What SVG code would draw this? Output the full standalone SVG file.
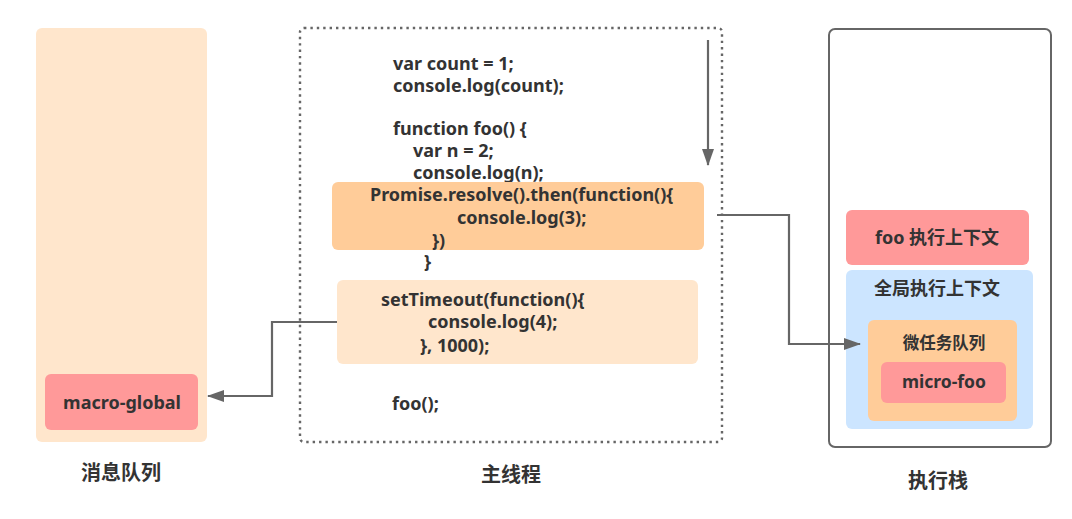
<svg xmlns="http://www.w3.org/2000/svg" width="1072" height="519" viewBox="0 0 1072 519">
<style>
text{font-family:"Noto Sans","Noto Sans CJK SC",sans-serif;font-weight:bold;fill:#333;font-size:18px}
.lbl{font-size:20px;text-anchor:middle}
.c{text-anchor:middle}
.conn{fill:none;stroke:#666;stroke-width:2.2}
</style>
<defs>
<marker id="arr" viewBox="0 0 17 12" refX="16" refY="6" markerWidth="17" markerHeight="12" markerUnits="userSpaceOnUse" orient="auto">
<path d="M0,0 L17,6 L0,12 z" fill="#666"/>
</marker>
</defs>
<rect width="1072" height="519" fill="#fff"/>

<g id="msg-queue">
<rect x="36" y="28" width="171" height="414" rx="6" fill="#FFE6CC"/>
<text class="lbl" x="121" y="480">消息队列</text>
</g>
<g id="macro-global">
<rect x="45" y="374" width="153" height="56" rx="6" fill="#FF9999"/>
<text class="c" x="122" y="409">macro-global</text>
</g>

<g id="main-thread">
<rect x="300" y="28" width="422" height="414" rx="4" fill="none" stroke="#666" stroke-width="2.4" stroke-dasharray="2.4 4"/>
<text class="lbl" x="511" y="482">主线程</text>
<text x="393" y="70">var count = 1;</text>
<text x="393" y="92">console.log(count);</text>
<text x="393" y="135">function foo() {</text>
<text x="413" y="157">var n = 2;</text>
<text x="413" y="179">console.log(n);</text>
<text x="424" y="268">}</text>
<text x="392" y="410">foo();</text>
</g>
<g id="promise">
<rect x="332" y="182" width="372" height="68" rx="6" fill="#FFCC99"/>
<text x="370" y="201">Promise.resolve().then(function(){</text>
<text x="457" y="224">console.log(3);</text>
<text x="432" y="247">})</text>
</g>
<g id="settimeout">
<rect x="337" y="280" width="361" height="84" rx="6" fill="#FFE6CC"/>
<text x="381" y="306">setTimeout(function(){</text>
<text x="428" y="328">console.log(4);</text>
<text x="420" y="352">}, 1000);</text>
</g>

<g id="exec-stack">
<rect x="829" y="29" width="222" height="418" rx="6" fill="#fff" stroke="#666" stroke-width="2"/>
<text class="lbl" x="938" y="488">执行栈</text>
</g>
<g id="foo-ctx">
<rect x="846" y="210" width="183" height="55" rx="6" fill="#FF9999"/>
<text class="c" x="937" y="244">foo 执行上下文</text>
</g>
<g id="global-ctx">
<rect x="846" y="270" width="187" height="159" rx="6" fill="#CCE5FF"/>
<text class="c" x="937" y="295">全局执行上下文</text>
</g>
<g id="micro-queue">
<rect x="868" y="320" width="149" height="101" rx="6" fill="#FFCC99"/>
<text class="c" x="944" y="349" style="font-size:16.5px">微任务队列</text>
</g>
<g id="micro-foo">
<rect x="881" y="362" width="125" height="41" rx="6" fill="#FF9999"/>
<text class="c" x="944" y="388" style="font-size:17.5px">micro-foo</text>
</g>

<g id="connectors">
<path class="conn" d="M708,40 V165" marker-end="url(#arr)"/>
<path class="conn" d="M717,215 H789 V344 H860" marker-end="url(#arr)"/>
<path class="conn" d="M337,322 H272 V396 H208" marker-end="url(#arr)"/>
</g>
</svg>
